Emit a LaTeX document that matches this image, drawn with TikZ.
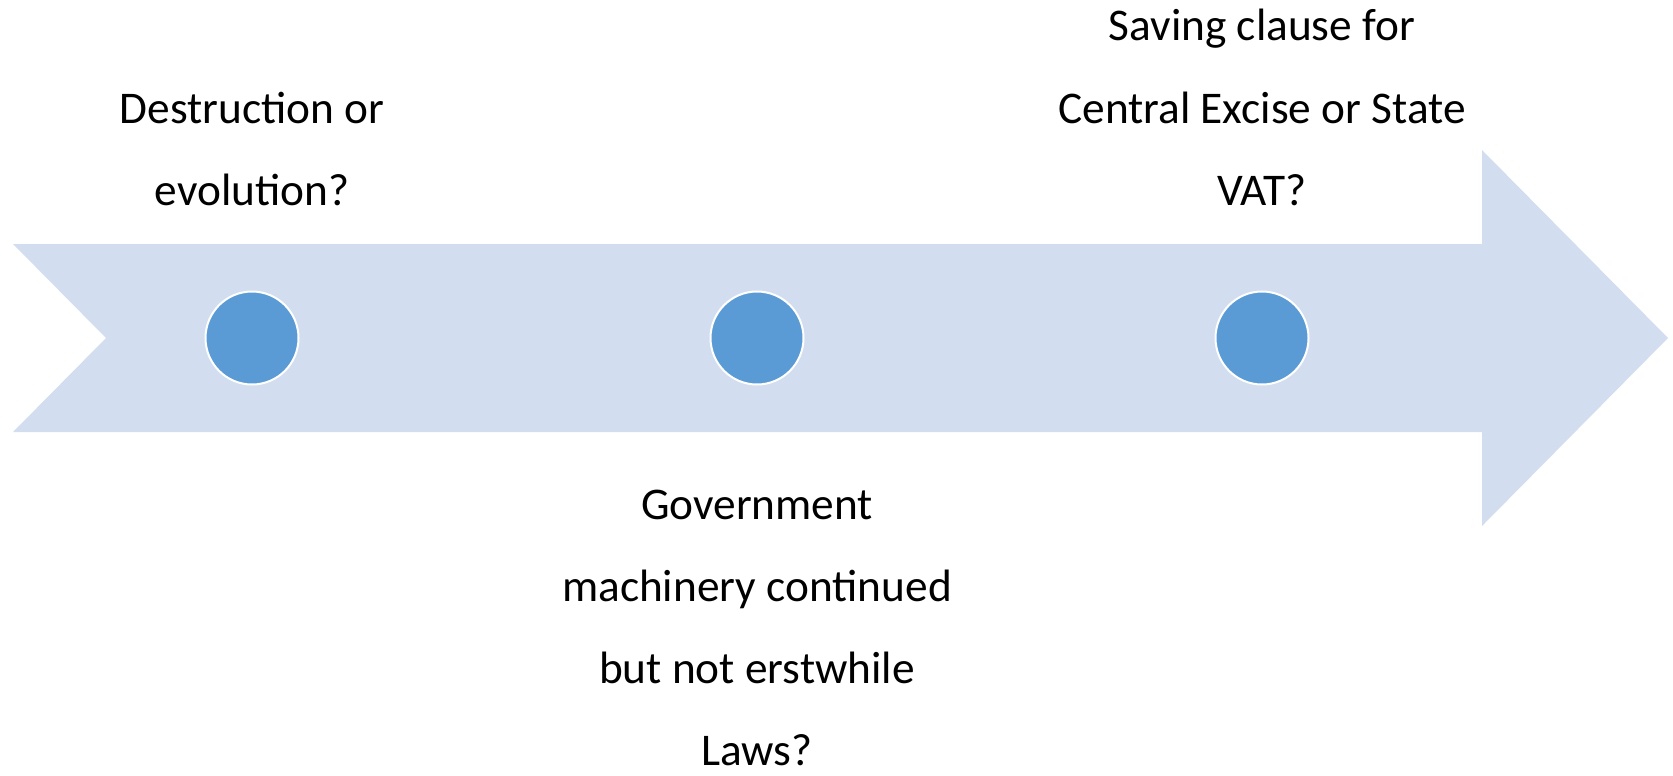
\documentclass[tikz,border=0pt]{standalone}
\usepackage{fontspec}
\setmainfont{Carlito}
\usepackage{tikz}
\usetikzlibrary{positioning}
\definecolor{band}{HTML}{D2DEEF}
\definecolor{dotblue}{HTML}{5B9BD5}
\tikzstyle{milestone} = [circle, fill=dotblue, draw=white, line width=1.5pt, inner sep=0pt, minimum size=69.75pt]
\tikzstyle{caption} = [align=center, inner sep=0pt, font=\fontsize{34}{61.7}\selectfont]

\begin{document}
\begin{tikzpicture}[x=0.75pt, y=-0.75pt]
    \useasboundingbox (0,0) rectangle (1673,775);
    % timeline arrow
    \fill [band] (13,244) -- (1482,244) -- (1482,150) -- (1668,338) -- (1482,526) -- (1482,432) -- (13,432) -- (106,338) -- cycle;
    \node (m1) [milestone] at (252,338) {};
    \node (m2) [milestone] at (757,338) {};
    \node (m3) [milestone] at (1262,338) {};
    \node (q1) [caption, above=63.4pt of m1] {Destruction or\\evolution?};
    \node (q2) [caption, below=78pt of m2] {Government\\machinery continued\\but not erstwhile\\Laws?};
    \node (q3) [caption, above=63.4pt of m3] {Saving clause for\\Central Excise or State\\VAT?};
\end{tikzpicture}
\end{document}
